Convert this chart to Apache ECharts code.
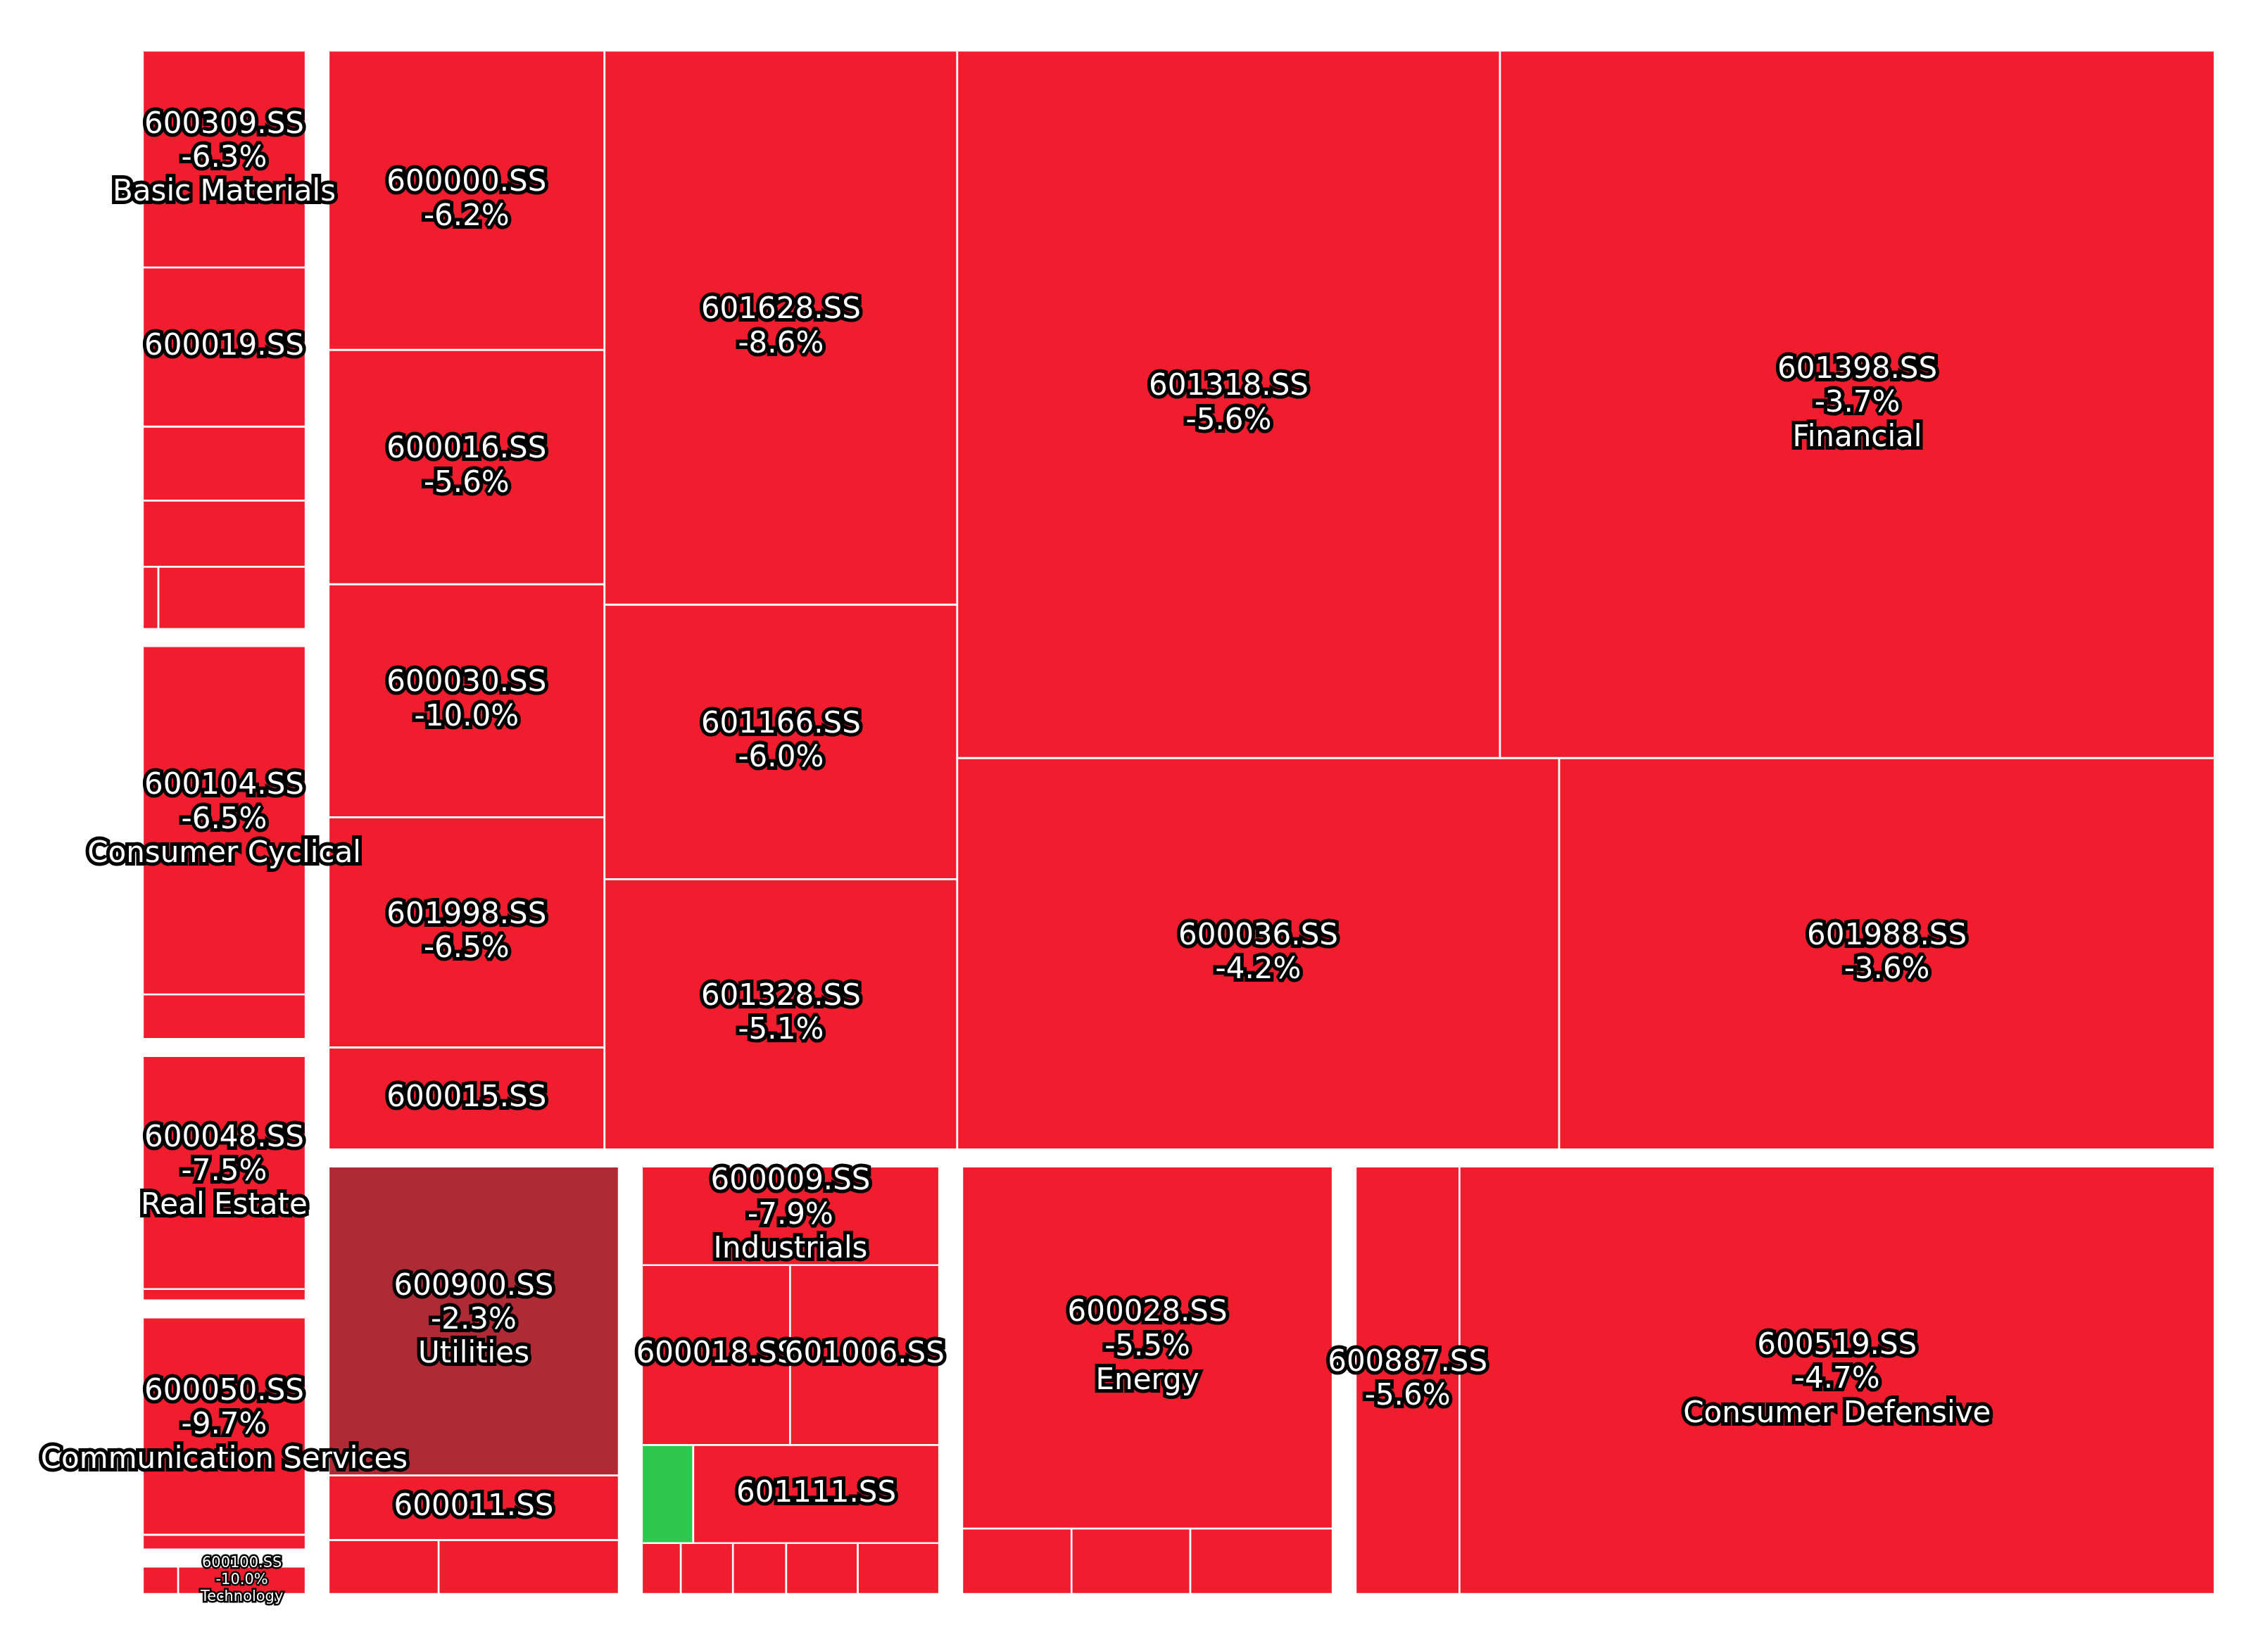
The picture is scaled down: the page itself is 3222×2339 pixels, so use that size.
<!DOCTYPE html>
<html>
<head>
<meta charset="utf-8">
<title>SSE sector treemap</title>
<script src="https://cdn.jsdelivr.net/npm/echarts@6/dist/echarts.min.js"></script>
<style>
  html, body { margin: 0; padding: 0; background: #fff; }
  #main { width: 3222px; height: 2339px; }
</style>
</head>
<body>
<div id="main"></div>
<script>
// market cap (CNY bn) and daily change (%) per stock, grouped by sector
// '' = cell has no label in the picture, change there is only an estimate
var tickers = [
  '601398.SS', '601318.SS', '601988.SS', '600036.SS', '601628.SS', '601166.SS',
  '601328.SS', '600000.SS', '600016.SS', '600030.SS', '601998.SS', '600015.SS',
  '600519.SS', '600887.SS',
  '600028.SS', '', '', '',
  '600009.SS', '601006.SS', '600018.SS', '601111.SS', '', '', '', '', '', '',
  '600900.SS', '600011.SS', '', '',
  '600309.SS', '600019.SS', '', '', '', '',
  '600104.SS', '',
  '600048.SS', '',
  '600050.SS', '',
  '600100.SS', ''
];
var sectorOf = [
  'Financial', 'Financial', 'Financial', 'Financial', 'Financial', 'Financial',
  'Financial', 'Financial', 'Financial', 'Financial', 'Financial', 'Financial',
  'Consumer Defensive', 'Consumer Defensive',
  'Energy', 'Energy', 'Energy', 'Energy',
  'Industrials', 'Industrials', 'Industrials', 'Industrials', 'Industrials',
  'Industrials', 'Industrials', 'Industrials', 'Industrials', 'Industrials',
  'Utilities', 'Utilities', 'Utilities', 'Utilities',
  'Basic Materials', 'Basic Materials', 'Basic Materials', 'Basic Materials', 'Basic Materials', 'Basic Materials',
  'Consumer Cyclical', 'Consumer Cyclical',
  'Real Estate', 'Real Estate',
  'Communication Services', 'Communication Services',
  'Technology', 'Technology'
];
var marketCap = [
  1589.6, 1207.4, 806.6, 740.8, 614.4, 304.5,
  299.8, 259.6, 203.4, 202.2, 199.7, 88.5,
  1054.5, 145.0,
  453.1, 31.5, 26.3, 24.2,
  100.5, 91.9, 91.4, 82.7, 17.3, 14.2, 12.5, 9.3, 9.1, 6.8,
  307.9, 64.3, 33.4, 20.4,
  126.9, 93.1, 43.3, 38.7, 33.0, 3.5,
  206.6, 26.4,
  141.7, 6.9,
  132.6, 9.0,
  19.8, 5.5
];
var pctChange = [
  -3.7, -5.6, -3.6, -4.2, -8.6, -6.0,
  -5.1, -6.2, -5.6, -10.0, -6.5, -5.0,
  -4.7, -5.6,
  -5.5, -5.0, -5.0, -5.0,
  -7.9, -5.0, -5.0, -5.0, 3.5, -5.0, -5.0, -5.0, -5.0, -5.0,
  -2.3, -5.0, -5.0, -5.0,
  -6.3, -5.0, -5.0, -5.0, -5.0, -5.0,
  -6.5, -5.0,
  -7.5, -5.0,
  -9.7, -5.0,
  -10.0, -5.0
];

var chartDom = document.getElementById('main');
var myChart = echarts.init(chartDom);
var option;

// squarify (Bruls et al.), same steps as the python squarify package
function total(a) { var s = 0; a.forEach(function (v) { s += v; }); return s; }
function normalize(sizes, dx, dy) {
  var t = total(sizes);
  return sizes.map(function (v) { return v * dx * dy / t; });
}
function layoutRow(sizes, x, y, dx, dy) {
  var width = total(sizes) / dy, out = [];
  sizes.forEach(function (s) { out.push({x: x, y: y, dx: width, dy: s / width}); y += s / width; });
  return out;
}
function layoutCol(sizes, x, y, dx, dy) {
  var height = total(sizes) / dx, out = [];
  sizes.forEach(function (s) { out.push({x: x, y: y, dx: s / height, dy: height}); x += s / height; });
  return out;
}
function layout(sizes, x, y, dx, dy) {
  return dx >= dy ? layoutRow(sizes, x, y, dx, dy) : layoutCol(sizes, x, y, dx, dy);
}
function leftover(sizes, x, y, dx, dy) {
  if (dx >= dy) { var w = total(sizes) / dy; return [x + w, y, dx - w, dy]; }
  var h = total(sizes) / dx; return [x, y + h, dx, dy - h];
}
function worst(sizes, x, y, dx, dy) {
  return Math.max.apply(null, layout(sizes, x, y, dx, dy).map(function (r) {
    return Math.max(r.dx / r.dy, r.dy / r.dx);
  }));
}
function squarify(sizes, x, y, dx, dy) {
  if (!sizes.length) return [];
  if (sizes.length === 1) return layout(sizes, x, y, dx, dy);
  var i = 1;
  while (i < sizes.length && worst(sizes.slice(0, i), x, y, dx, dy) >= worst(sizes.slice(0, i + 1), x, y, dx, dy)) i++;
  var cur = sizes.slice(0, i), lo = leftover(cur, x, y, dx, dy);
  return layout(cur, x, y, dx, dy).concat(squarify(sizes.slice(i), lo[0], lo[1], lo[2], lo[3]));
}

// colour by daily change
var colorStops = [[-3, [240, 29, 46]], [-2, [146, 47, 56]], [0, [65, 69, 84]], [2, [43, 150, 70]], [3, [45, 200, 77]]];
function colorFor(v) {
  if (v <= colorStops[0][0]) v = colorStops[0][0];
  if (v >= colorStops[colorStops.length - 1][0]) v = colorStops[colorStops.length - 1][0];
  for (var k = 1; k < colorStops.length; k++) {
    var a = colorStops[k - 1], b = colorStops[k];
    if (v <= b[0]) {
      var t = (v - a[0]) / (b[0] - a[0]);
      return 'rgb(' + [0, 1, 2].map(function (c) { return Math.round(a[1][c] + t * (b[1][c] - a[1][c])); }).join(',') + ')';
    }
  }
}
function fmtPct(v) { return v.toFixed(1) + '%'; }

var PAD = 0.55;
var sectors = [];
sectorOf.forEach(function (s) { if (sectors.indexOf(s) < 0) sectors.push(s); });
var sectorCap = sectors.map(function (s) {
  var t = 0;
  sectorOf.forEach(function (o, i) { if (o === s) t += marketCap[i]; });
  return t;
});
var order = sectors.map(function (s, k) { return k; }).sort(function (a, b) { return sectorCap[a] - sectorCap[b]; });
var secRects = squarify(normalize(order.map(function (k) { return sectorCap[k]; }), 100, 100), 0, 0, 100, 100);

var cells = [], labels = [];
secRects.forEach(function (r, n) {
  var sec = sectors[order[n]];
  var idx = [];
  sectorOf.forEach(function (o, i) { if (o === sec) idx.push(i); });
  idx.sort(function (a, b) { return marketCap[a] - marketCap[b]; });
  var x = r.x + PAD, y = r.y + PAD, dx = r.dx - 2 * PAD, dy = r.dy - 2 * PAD;
  var rr = squarify(normalize(idx.map(function (i) { return marketCap[i]; }), dx, dy), x, y, dx, dy);
  rr.forEach(function (c, j) {
    var i = idx[j];
    var top = j === idx.length - 1;
    var area = c.dx * c.dy;
    var lines = [];
    if (tickers[i] && (top || area > 45)) lines.push(tickers[i]);
    if (tickers[i] && (top || area > 110)) lines.push(fmtPct(pctChange[i]));
    if (top) lines.push(sec);
    cells.push([c.x, c.y, c.x + c.dx, c.y + c.dy, pctChange[i]]);
    labels.push(lines.join('\n'));
  });
});

option = {
  animation: false,
  backgroundColor: '#fff',
  grid: {left: 186.5, right: 59.5, top: 59.75, bottom: 61.75},
  xAxis: {type: 'value', min: 0, max: 100, show: false},
  yAxis: {type: 'value', min: 0, max: 100, show: false},
  series: [{
    type: 'custom',
    data: cells,
    renderItem: function (params, api) {
      var p0 = api.coord([api.value(0), api.value(3)]);
      var p1 = api.coord([api.value(2), api.value(1)]);
      var w = p1[0] - p0[0], h = p1[1] - p0[1];
      var children = [{
        type: 'rect',
        shape: {x: p0[0], y: p0[1], width: w, height: h},
        style: {fill: colorFor(api.value(4)), stroke: '#fff', lineWidth: 2.6}
      }];
      var text = labels[params.dataIndex];
      if (text) {
        var fs = Math.min(42, 0.25 * Math.sqrt(w * h));
        children.push({
          type: 'text',
          z2: 100,
          style: {
            text: text,
            x: p0[0] + w / 2,
            y: p0[1] + h / 2,
            align: 'center',
            verticalAlign: 'middle',
            fill: '#fff',
            stroke: '#000',
            strokeFirst: true,
            lineWidth: fs * 0.24,
            lineJoin: 'round',
            fontSize: fs,
            fontFamily: 'DejaVu Sans',
            lineHeight: fs * 1.15,
            shadowColor: 'rgba(0,0,0,0.85)',
            shadowOffsetX: fs * 0.05,
            shadowOffsetY: fs * 0.05
          }
        });
      }
      return {type: 'group', children: children};
    }
  }]
};

myChart.setOption(option);
</script>
</body>
</html>
